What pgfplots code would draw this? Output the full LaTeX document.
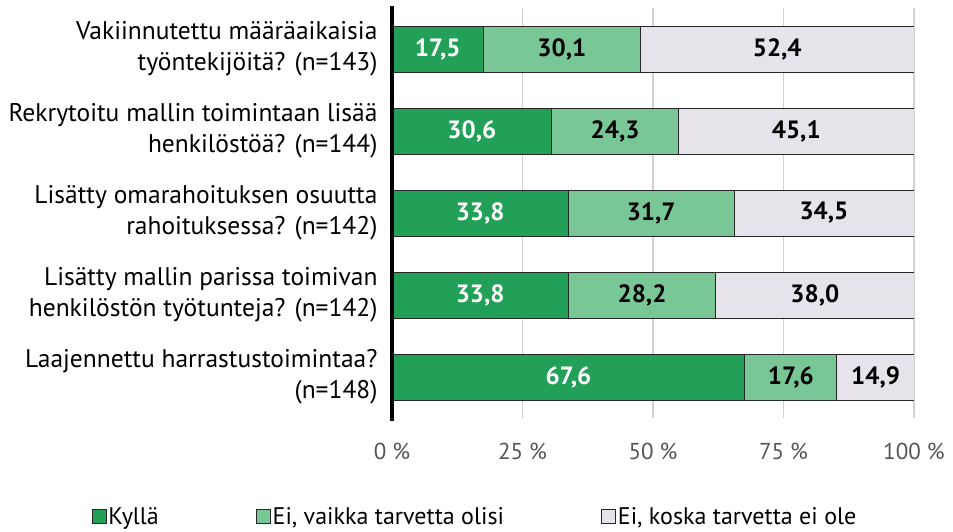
\documentclass[border=0pt]{standalone}
\usepackage{pgfplots}
\pgfplotsset{compat=1.18}
\usepackage{fontspec}
\setmainfont{PT Sans}
\definecolor{cDark}{RGB}{34,160,88}
\definecolor{cLight}{RGB}{121,199,151}
\definecolor{cGray}{RGB}{230,227,235}
\definecolor{cTick}{RGB}{85,85,85}
\begin{document}
\begin{tikzpicture}
\begin{axis}[
  name=ax,
  scale only axis,
  width=522pt, height=410pt,
  xbar stacked,
  bar width=46pt,
  xmin=0, xmax=100,
  ymin=-0.5, ymax=4.5,
  y dir=reverse,
  ytick={0,1,2,3,4},
  yticklabels={{Vakiinnutettu määräaikaisia\\työntekijöitä? (n=143)},
               {Rekrytoitu mallin toimintaan lisää\\henkilöstöä? (n=144)},
               {Lisätty omarahoituksen osuutta\\rahoituksessa? (n=142)},
               {Lisätty mallin parissa toimivan\\henkilöstön työtunteja? (n=142)},
               {Laajennettu harrastustoimintaa?\\(n=148)}},
  yticklabel style={align=right, font=\fontsize{25.5}{31}\selectfont, xshift=-11pt},
  xtick={0,25,50,75,100},
  xticklabels={0 \%,25 \%,50 \%,75 \%,100 \%},
  xticklabel style={font=\fontsize{23}{26}\selectfont, text=cTick, yshift=-22pt},
  major tick length=0pt,
  axis line style={draw=none},
  xmajorgrids,
  major grid style={draw=black!18, line width=1.3pt},
  legend style={at={(0.159,-0.241)}, anchor=center, draw=none, fill=none,
    font=\fontsize{24}{28}\selectfont, legend columns=3,
    /tikz/every even column/.append style={column sep=95pt}},
  legend image code/.code={\draw[#1, draw=black!85, line width=0.8pt] (0pt,-7pt) rectangle (14pt,7pt);},
]
\addplot[fill=cDark, draw=black!85, line width=0.8pt] coordinates {(17.5,0) (30.6,1) (33.8,2) (33.8,3) (67.6,4)};
\addplot[fill=cLight, draw=black!85, line width=0.8pt] coordinates {(30.1,0) (24.3,1) (31.7,2) (28.2,3) (17.6,4)};
\addplot[fill=cGray, draw=black!85, line width=0.8pt] coordinates {(52.4,0) (45.1,1) (34.5,2) (38.0,3) (14.9,4)};
\legend{Kyllä, {Ei, vaikka tarvetta olisi}, {Ei, koska tarvetta ei ole}}
\end{axis}
\begin{axis}[
  scale only axis,
  width=522pt, height=410pt,
  xmin=0, xmax=100,
  ymin=-0.5, ymax=4.5,
  y dir=reverse,
  hide axis,
]
\addplot[only marks, mark=none, nodes near coords, point meta=explicit symbolic,
  every node near coord/.append style={anchor=center, font=\fontsize{25}{28}\selectfont\bfseries, text=white}]
  table[meta=m] {
x y m
8.75 0 17,5
15.3 1 30,6
16.9 2 33,8
16.9 3 33,8
33.8 4 67,6
};
\addplot[only marks, mark=none, nodes near coords, point meta=explicit symbolic,
  every node near coord/.append style={anchor=center, font=\fontsize{25}{28}\selectfont\bfseries, text=black}]
  table[meta=m] {
x y m
32.55 0 30,1
42.75 1 24,3
49.65 2 31,7
47.9 3 28,2
76.4 4 17,6
73.8 0 52,4
77.45 1 45,1
82.75 2 34,5
81.0 3 38,0
92.65 4 14,9
};
\end{axis}
\draw[line width=4pt, black] ([yshift=2pt]ax.north west) -- ([yshift=-3pt]ax.south west);
\pgfresetboundingbox
\useasboundingbox (ax.south west) ++(-392pt,-113pt) rectangle ++(953pt,531pt);
\end{tikzpicture}
\end{document}
